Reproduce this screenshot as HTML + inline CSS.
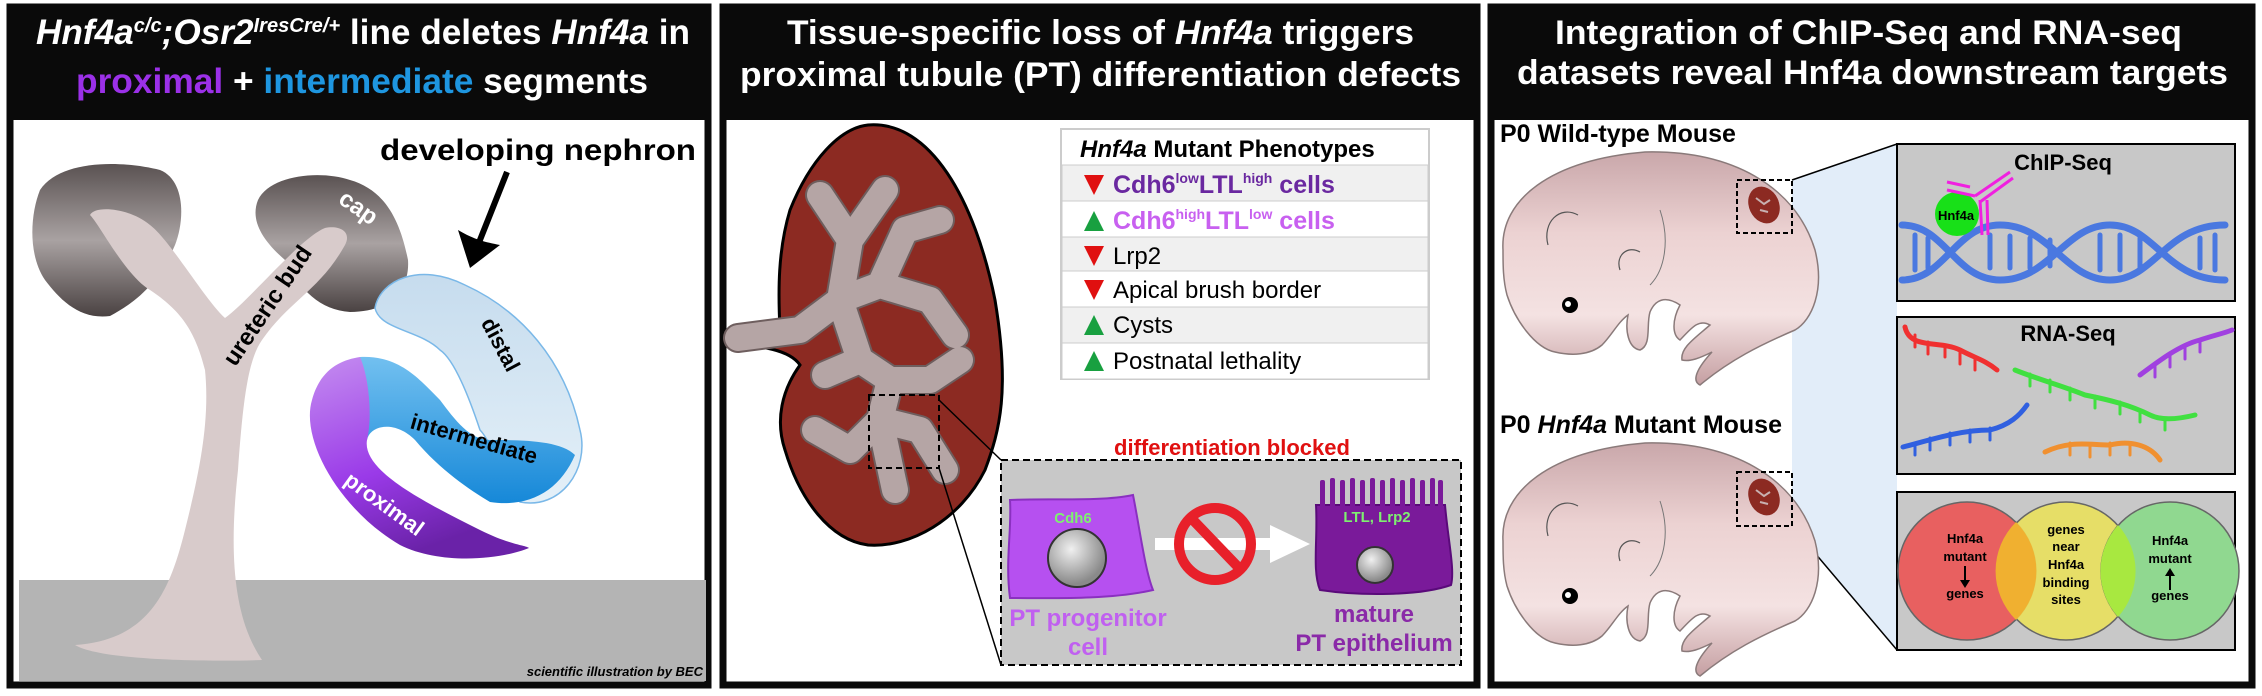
<!DOCTYPE html>
<html><head><meta charset="utf-8"><style>
html,body{margin:0;padding:0;background:#fff;}
svg{display:block;}
text{font-family:"Liberation Sans",Arial,sans-serif;}
</style></head><body>
<svg width="2262" height="696" viewBox="0 0 2262 696" xmlns="http://www.w3.org/2000/svg">
<defs>
<linearGradient id="cap" x1="0" y1="0" x2="0" y2="1"><stop offset="0" stop-color="#5a5252"/><stop offset="0.5" stop-color="#a9a2a2"/><stop offset="1" stop-color="#4a4242"/></linearGradient>
<linearGradient id="prox" x1="0" y1="0" x2="0.4" y2="1"><stop offset="0" stop-color="#c58ef0"/><stop offset="0.6" stop-color="#9a3ae8"/><stop offset="1" stop-color="#6a22a8"/></linearGradient>
<linearGradient id="inter" x1="0" y1="0" x2="0" y2="1"><stop offset="0" stop-color="#72c0f0"/><stop offset="1" stop-color="#1688d8"/></linearGradient>
<linearGradient id="dist" x1="0" y1="0" x2="0" y2="1"><stop offset="0" stop-color="#c6dcee"/><stop offset="1" stop-color="#e4f0f8"/></linearGradient>
<linearGradient id="mouse" x1="0" y1="0" x2="0" y2="1"><stop offset="0" stop-color="#c9a7aa"/><stop offset="0.35" stop-color="#ecd2d2"/><stop offset="0.7" stop-color="#f4e2e2"/><stop offset="1" stop-color="#c59fa2"/></linearGradient>
<radialGradient id="nuc" cx="0.4" cy="0.35" r="0.6"><stop offset="0" stop-color="#f0f0f0"/><stop offset="1" stop-color="#8a8a8a"/></radialGradient>
</defs>

<!-- ============ PANEL 1 ============ -->
<rect x="10" y="7" width="698" height="678" fill="#fff" stroke="#0a0a0a" stroke-width="7"/>
<rect x="10" y="7" width="698" height="113" fill="#0a0a0a"/>
<rect x="19" y="580" width="687" height="101" fill="#b4b4b4"/>
<text x="36" y="44" font-size="35" font-weight="bold" fill="#fff" textLength="654" lengthAdjust="spacingAndGlyphs"><tspan font-style="italic">Hnf4a</tspan><tspan font-style="italic" font-size="20" dy="-12">c/c</tspan><tspan font-style="italic" dy="12">;Osr2</tspan><tspan font-style="italic" font-size="20" dy="-12">IresCre/+</tspan><tspan dy="12"> line deletes </tspan><tspan font-style="italic">Hnf4a</tspan> in</text>
<text x="76" y="93" font-size="35" font-weight="bold" fill="#fff" textLength="572" lengthAdjust="spacingAndGlyphs"><tspan fill="#9b30e8">proximal</tspan> + <tspan fill="#1e96e0">intermediate</tspan> segments</text>

<path d="M40,190 C60,160 120,160 160,170 C185,180 185,220 175,245 C160,280 140,300 110,316 C80,320 60,300 45,280 C28,255 30,215 40,190Z" fill="url(#cap)"/>
<path d="M258,200 C270,175 320,170 350,180 C385,190 400,220 408,260 C410,290 390,312 350,312 C320,310 300,290 285,260 C262,240 250,220 258,200Z" fill="url(#cap)"/>
<path d="M90,215 C100,225 125,275 150,290 C180,310 195,330 205,370 C210,420 200,470 185,530 C170,590 150,640 75,645 C100,660 200,662 262,660 C235,620 228,560 238,470 C243,400 248,360 262,340 C290,300 320,290 345,245 C352,232 340,225 325,228 C300,238 250,300 225,318 C205,300 170,240 150,225 C130,208 95,205 90,215Z" fill="#d8cbcb"/>
<path d="M375,308 C380,280 420,262 465,285 C520,310 565,360 580,430 C590,470 560,510 520,502 C500,470 490,440 480,430 C470,400 455,360 440,350 C420,330 380,330 375,308Z" fill="url(#dist)" stroke="#7ab8e8" stroke-width="1.5"/>
<path d="M360,357 C400,355 420,380 440,400 C455,420 470,440 490,440 C520,440 560,440 575,455 C560,490 530,508 490,502 C470,490 440,470 415,440 C395,420 370,425 367,440 C360,420 355,380 360,357Z" fill="url(#inter)"/>
<path d="M360,357 C370,380 372,420 367,440 C362,470 420,500 480,530 C510,545 525,545 529,548 C500,560 440,565 400,545 C340,510 300,440 312,400 C320,370 340,360 360,357Z" fill="url(#prox)"/>
<line x1="507" y1="172" x2="478" y2="245" stroke="#000" stroke-width="6"/>
<path d="M458,230 L470,268 L500,245 C485,242 475,240 458,230Z" fill="#000"/>
<text x="380" y="160" font-size="30" font-weight="bold" fill="#000" textLength="316" lengthAdjust="spacingAndGlyphs">developing nephron</text>
<text transform="translate(274,310) rotate(-56)" font-size="24" font-weight="bold" text-anchor="middle" fill="#000">ureteric bud</text>
<text transform="translate(354,214) rotate(35)" font-size="24" font-weight="bold" text-anchor="middle" fill="#fff">cap</text>
<text transform="translate(494,348) rotate(62)" font-size="22" font-weight="bold" text-anchor="middle" fill="#000">distal</text>
<text transform="translate(472,446) rotate(16)" font-size="22" font-weight="bold" text-anchor="middle" fill="#000">intermediate</text>
<text transform="translate(380,510) rotate(36)" font-size="22" font-weight="bold" text-anchor="middle" fill="#fff">proximal</text>
<text x="703" y="676" font-size="13" font-style="italic" font-weight="bold" text-anchor="end" fill="#000" font-family="Liberation Serif, serif">scientific illustration by BEC</text>

<!-- ============ PANEL 2 ============ -->
<rect x="723" y="7" width="754" height="678" fill="#fff" stroke="#0a0a0a" stroke-width="7"/>
<rect x="723" y="7" width="754" height="113" fill="#0a0a0a"/>
<text x="787" y="44" font-size="34" font-weight="bold" fill="#fff" textLength="627" lengthAdjust="spacingAndGlyphs">Tissue-specific loss of <tspan font-style="italic">Hnf4a</tspan> triggers</text>
<text x="740" y="86" font-size="34" font-weight="bold" fill="#fff" textLength="721" lengthAdjust="spacingAndGlyphs">proximal tubule (PT) differentiation defects</text>

<path d="M868,125 C930,120 975,200 995,300 C1010,390 1000,430 985,470 C960,520 910,548 868,545 C830,540 800,500 785,450 C775,420 782,390 800,365 C790,350 760,345 730,345 C725,335 730,328 780,330 C778,290 778,250 790,210 C810,160 840,128 868,125Z" fill="#8c2a22" stroke="#000" stroke-width="3"/>
<g stroke="#6e5e5e" stroke-width="30" stroke-linecap="round" stroke-linejoin="round" fill="none">
<path d="M738,338 L800,330 L840,300 L850,240 L820,195 M850,240 L885,190 M840,300 L880,285 L930,300 L955,335 M880,285 L905,230 L940,220 M840,300 L860,360 L890,380 L930,380 L960,360 M890,380 L880,420 L850,450 L815,430 M880,420 L920,430 L945,470 M880,420 L895,490 M860,360 L825,375"/>
</g>
<g stroke="#b5a5a5" stroke-width="26" stroke-linecap="round" stroke-linejoin="round" fill="none">
<path d="M738,338 L800,330 L840,300 L850,240 L820,195 M850,240 L885,190 M840,300 L880,285 L930,300 L955,335 M880,285 L905,230 L940,220 M840,300 L860,360 L890,380 L930,380 L960,360 M890,380 L880,420 L850,450 L815,430 M880,420 L920,430 L945,470 M880,420 L895,490 M860,360 L825,375"/>
</g>
<rect x="869" y="395" width="70" height="73" fill="none" stroke="#000" stroke-width="2" stroke-dasharray="6,4"/>
<line x1="939" y1="400" x2="1001" y2="460" stroke="#000" stroke-width="1.5"/>
<line x1="939" y1="468" x2="1001" y2="665" stroke="#000" stroke-width="1.5"/>

<g font-size="25" font-weight="bold">
<rect x="1061" y="129" width="368" height="250" fill="#fff" stroke="#ccc" stroke-width="2"/>
<rect x="1062" y="165" width="366" height="36" fill="#f0f0f0" stroke="#ccc"/>
<rect x="1062" y="201" width="366" height="36" fill="#fff" stroke="#ccc"/>
<rect x="1062" y="237" width="366" height="34" fill="#f0f0f0" stroke="#ccc"/>
<rect x="1062" y="271" width="366" height="36" fill="#fff" stroke="#ccc"/>
<rect x="1062" y="307" width="366" height="36" fill="#f0f0f0" stroke="#ccc"/>
<rect x="1062" y="343" width="366" height="36" fill="#fff" stroke="#ccc"/>
<text x="1080" y="157" font-size="24" fill="#000"><tspan font-style="italic">Hnf4a</tspan> Mutant Phenotypes</text>
<path d="M1084,175 L1104,175 L1094,195Z" fill="#e01010"/>
<text x="1113" y="193" fill="#6a28a0">Cdh6<tspan font-size="14" dy="-10">low</tspan><tspan dy="10">LTL</tspan><tspan font-size="14" dy="-10">high</tspan><tspan dy="10"> cells</tspan></text>
<path d="M1094,211 L1104,231 L1084,231Z" fill="#18a040"/>
<text x="1113" y="229" fill="#c860f0">Cdh6<tspan font-size="14" dy="-10">high</tspan><tspan dy="10">LTL</tspan><tspan font-size="14" dy="-10">low</tspan><tspan dy="10"> cells</tspan></text>
<g font-weight="normal" fill="#000" font-size="24">
<path d="M1084,246 L1104,246 L1094,266Z" fill="#e01010"/><text x="1113" y="264">Lrp2</text>
<path d="M1084,280 L1104,280 L1094,300Z" fill="#e01010"/><text x="1113" y="298">Apical brush border</text>
<path d="M1094,315 L1104,335 L1084,335Z" fill="#18a040"/><text x="1113" y="333">Cysts</text>
<path d="M1094,351 L1104,371 L1084,371Z" fill="#18a040"/><text x="1113" y="369">Postnatal lethality</text>
</g></g>

<text x="1232" y="455" font-size="22" font-weight="bold" fill="#e01010" text-anchor="middle">differentiation blocked</text>
<rect x="1001" y="460" width="460" height="205" fill="#c8c8c8" stroke="#000" stroke-width="2" stroke-dasharray="7,4"/>
<path d="M1010,500 C1050,498 1100,502 1133,495 C1140,530 1145,570 1153,590 C1110,600 1050,598 1010,598 C1005,560 1012,530 1010,500Z" fill="#b650f0" stroke="#8a30c0" stroke-width="2"/>
<circle cx="1077" cy="558" r="29" fill="url(#nuc)" stroke="#333" stroke-width="2"/>
<text x="1073" y="523" font-size="15" font-weight="bold" fill="#7ef070" text-anchor="middle">Cdh6</text>
<text x="1088" y="626" font-size="24" font-weight="bold" fill="#c060f0" text-anchor="middle">PT progenitor</text>
<text x="1088" y="655" font-size="24" font-weight="bold" fill="#c060f0" text-anchor="middle">cell</text>
<path d="M1155,538 L1270,538 L1270,525 L1310,544 L1270,563 L1270,550 L1155,550Z" fill="#fff"/>
<circle cx="1215" cy="544" r="36" fill="none" stroke="#e8202a" stroke-width="10"/>
<line x1="1192" y1="519" x2="1240" y2="569" stroke="#e8202a" stroke-width="10"/>
<g fill="#7a1a9a">
<path d="M1316,505 L1445,505 C1448,540 1455,570 1451,585 C1420,596 1360,596 1320,590 C1312,570 1318,540 1316,505Z" stroke="#5a0a7a" stroke-width="2"/>
<rect x="1320" y="480" width="5" height="28" rx="2"/><rect x="1330" y="478" width="5" height="30" rx="2"/><rect x="1340" y="480" width="5" height="28" rx="2"/><rect x="1350" y="478" width="5" height="30" rx="2"/><rect x="1360" y="480" width="5" height="28" rx="2"/><rect x="1370" y="478" width="5" height="30" rx="2"/><rect x="1380" y="480" width="5" height="28" rx="2"/><rect x="1390" y="478" width="5" height="30" rx="2"/><rect x="1400" y="480" width="5" height="28" rx="2"/><rect x="1410" y="478" width="5" height="30" rx="2"/><rect x="1420" y="480" width="5" height="28" rx="2"/><rect x="1430" y="478" width="5" height="30" rx="2"/><rect x="1438" y="480" width="5" height="28" rx="2"/>
</g>
<circle cx="1375" cy="565" r="18" fill="url(#nuc)" stroke="#333" stroke-width="2"/>
<text x="1377" y="522" font-size="15" font-weight="bold" fill="#7ef070" text-anchor="middle">LTL, Lrp2</text>
<text x="1374" y="622" font-size="24" font-weight="bold" fill="#8a2aa8" text-anchor="middle">mature</text>
<text x="1374" y="651" font-size="24" font-weight="bold" fill="#8a2aa8" text-anchor="middle">PT epithelium</text>

<!-- ============ PANEL 3 ============ -->
<rect x="1491" y="7" width="761" height="678" fill="#fff" stroke="#0a0a0a" stroke-width="7"/>
<rect x="1491" y="7" width="761" height="113" fill="#0a0a0a"/>
<text x="1555" y="44" font-size="34" font-weight="bold" fill="#fff" textLength="627" lengthAdjust="spacingAndGlyphs">Integration of ChIP-Seq and RNA-seq</text>
<text x="1517" y="84" font-size="34" font-weight="bold" fill="#fff" textLength="711" lengthAdjust="spacingAndGlyphs">datasets reveal Hnf4a downstream targets</text>

<path d="M1792,180 L1897,144 L1897,650 L1792,526Z" fill="#dbe8f8" opacity="0.8"/>
<line x1="1792" y1="180" x2="1897" y2="144" stroke="#000" stroke-width="1.5"/>
<line x1="1792" y1="526" x2="1897" y2="650" stroke="#000" stroke-width="1.5"/>

<text x="1500" y="142" font-size="25" font-weight="bold" fill="#000">P0 Wild-type Mouse</text>
<text x="1500" y="433" font-size="25" font-weight="bold" fill="#000">P0 <tspan font-style="italic">Hnf4a</tspan> Mutant Mouse</text>

<g id="m1">
<path d="M1503,250 C1500,200 1550,160 1645,152 C1730,150 1795,185 1815,250 C1825,290 1812,320 1795,330 C1760,345 1730,360 1700,385 C1690,380 1700,365 1712,352 C1700,358 1690,362 1682,360 C1680,348 1695,338 1710,325 C1698,318 1690,330 1680,340 C1672,335 1672,320 1680,305 C1665,295 1655,300 1650,312 C1646,325 1652,345 1640,350 C1628,348 1625,330 1628,315 C1618,322 1612,335 1602,345 C1590,355 1572,356 1555,352 C1535,348 1515,320 1507,295 C1503,280 1503,265 1503,250Z" fill="url(#mouse)" stroke="#8a7a7a" stroke-width="1.5"/>
<circle cx="1570" cy="305" r="8" fill="#000"/><circle cx="1568" cy="304" r="3" fill="#fff"/>
<path d="M1548,245 C1542,222 1560,205 1578,215" fill="none" stroke="#555" stroke-width="1.2"/>
<path d="M1620,270 C1615,255 1628,245 1640,252" fill="none" stroke="#555" stroke-width="1.2"/>
<path d="M1660,210 C1670,240 1665,270 1650,285" fill="none" stroke="#777" stroke-width="1"/>
</g>
<use href="#m1" transform="translate(0,291)"/>
<rect x="1737" y="180" width="55" height="53" fill="none" stroke="#000" stroke-width="2" stroke-dasharray="5,3"/>
<rect x="1737" y="472" width="55" height="54" fill="none" stroke="#000" stroke-width="2" stroke-dasharray="5,3"/>
<ellipse cx="1764" cy="205" rx="15" ry="19" fill="#8c2a22" transform="rotate(-25 1764 205)"/>
<ellipse cx="1764" cy="497" rx="15" ry="19" fill="#8c2a22" transform="rotate(-25 1764 497)"/>
<path d="M1756,198 l8,6 l6,-4 M1760,210 l8,2" stroke="#c8b0b0" stroke-width="2" fill="none"/>
<path d="M1756,490 l8,6 l6,-4 M1760,502 l8,2" stroke="#c8b0b0" stroke-width="2" fill="none"/>

<rect x="1897" y="144" width="338" height="157" fill="#c8c8c8" stroke="#000" stroke-width="2"/>
<text x="2063" y="170" font-size="22" font-weight="bold" fill="#000" text-anchor="middle">ChIP-Seq</text>
<g stroke="#4a78e0" stroke-width="7" fill="none" stroke-linecap="round">
<path d="M1902,225 C1945,225 1955,280 2000,280 C2050,280 2065,225 2110,225 C2155,225 2165,280 2225,280"/>
<path d="M1902,280 C1945,280 1955,225 2000,225 C2050,225 2065,280 2110,280 C2155,280 2165,225 2225,225"/>
</g>
<g stroke="#4a78e0" stroke-width="5" stroke-linecap="round">
<line x1="1915" y1="235" x2="1915" y2="270"/><line x1="1928" y1="238" x2="1928" y2="268"/><line x1="1990" y1="235" x2="1990" y2="268"/><line x1="2010" y1="236" x2="2010" y2="268"/><line x1="2030" y1="238" x2="2030" y2="268"/><line x1="2050" y1="240" x2="2050" y2="266"/><line x1="2100" y1="235" x2="2100" y2="270"/><line x1="2120" y1="235" x2="2120" y2="270"/><line x1="2140" y1="238" x2="2140" y2="268"/><line x1="2200" y1="238" x2="2200" y2="268"/><line x1="2215" y1="235" x2="2215" y2="270"/>
</g>
<circle cx="1957" cy="214" r="22" fill="#18e018"/>
<text x="1956" y="220" font-size="13" font-weight="bold" fill="#000" text-anchor="middle">Hnf4a</text>
<g stroke="#f020e0" stroke-width="3"><path d="M1947,182 L1970,187 M1947,190 L1975,196 M1975,196 L2010,172 M1980,202 L2013,178 M1980,200 L1982,235 M1987,200 L1988,235" fill="none"/></g>

<rect x="1897" y="317" width="338" height="157" fill="#c8c8c8" stroke="#000" stroke-width="2"/>
<text x="2068" y="341" font-size="22" font-weight="bold" fill="#000" text-anchor="middle">RNA-Seq</text>
<g fill="none" stroke-width="5" stroke-linecap="round">
<path d="M1905,327 C1910,350 1940,340 1960,350 C1975,358 1985,360 1997,370" stroke="#f03030"/>
<path d="M1915,335 v12 M1928,342 v12 M1945,345 v12 M1960,352 v12 M1975,358 v12" stroke="#f03030" stroke-width="3"/>
<path d="M2015,370 C2040,380 2060,385 2085,395 C2110,400 2130,405 2150,415 C2160,420 2175,420 2195,415" stroke="#40e040"/>
<path d="M2030,374 v12 M2050,380 v12 M2070,388 v12 M2095,396 v12 M2120,402 v12 M2140,410 v12 M2165,418 v12" stroke="#40e040" stroke-width="3"/>
<path d="M2140,375 C2160,360 2180,345 2200,340 C2215,335 2225,333 2232,330" stroke="#a040e0"/>
<path d="M2155,365 v12 M2170,355 v12 M2185,347 v12 M2200,340 v12" stroke="#a040e0" stroke-width="3"/>
<path d="M1903,447 C1930,440 1960,430 1990,430 C2010,425 2020,415 2027,405" stroke="#3060e0"/>
<path d="M1915,443 v12 M1930,438 v12 M1950,433 v12 M1970,430 v12 M1990,428 v12" stroke="#3060e0" stroke-width="3"/>
<path d="M2045,452 C2070,440 2090,445 2110,445 C2130,440 2150,445 2160,460" stroke="#f09030"/>
<path d="M2070,443 v12 M2090,445 v12 M2110,443 v12 M2130,443 v12" stroke="#f09030" stroke-width="3"/>
</g>

<rect x="1897" y="492" width="338" height="158" fill="#c8c8c8" stroke="#000" stroke-width="2"/>
<circle cx="1967" cy="571" r="69" fill="#e86060" stroke="#666" stroke-width="1.5"/>
<circle cx="2066" cy="571" r="69" fill="#e8e060" fill-opacity="0.93" stroke="#666" stroke-width="1.5"/>
<circle cx="2170" cy="571" r="69" fill="#90d890" stroke="#666" stroke-width="1.5"/>
<path d="M2016,522 A69,69 0 0 1 2016,620 A69,69 0 0 1 2016,522Z" fill="#f0b030"/>
<path d="M2118,525 A69,69 0 0 1 2118,617 A69,69 0 0 1 2118,525Z" fill="#a8e840"/>
<g font-size="13" font-weight="bold" fill="#000" text-anchor="middle">
<text x="1965" y="543">Hnf4a</text><text x="1965" y="561">mutant</text><text x="1965" y="598">genes</text>
<path d="M1965,566 v16" stroke="#000" stroke-width="2"/><path d="M1960,580 L1970,580 L1965,588Z"/>
<text x="2066" y="534">genes</text><text x="2066" y="551">near</text><text x="2066" y="569">Hnf4a</text><text x="2066" y="587">binding</text><text x="2066" y="604">sites</text>
<text x="2170" y="545">Hnf4a</text><text x="2170" y="563">mutant</text><text x="2170" y="600">genes</text>
<path d="M2170,574 v16" stroke="#000" stroke-width="2"/><path d="M2165,576 L2175,576 L2170,568Z"/>
</g>
</svg>
</body></html>
